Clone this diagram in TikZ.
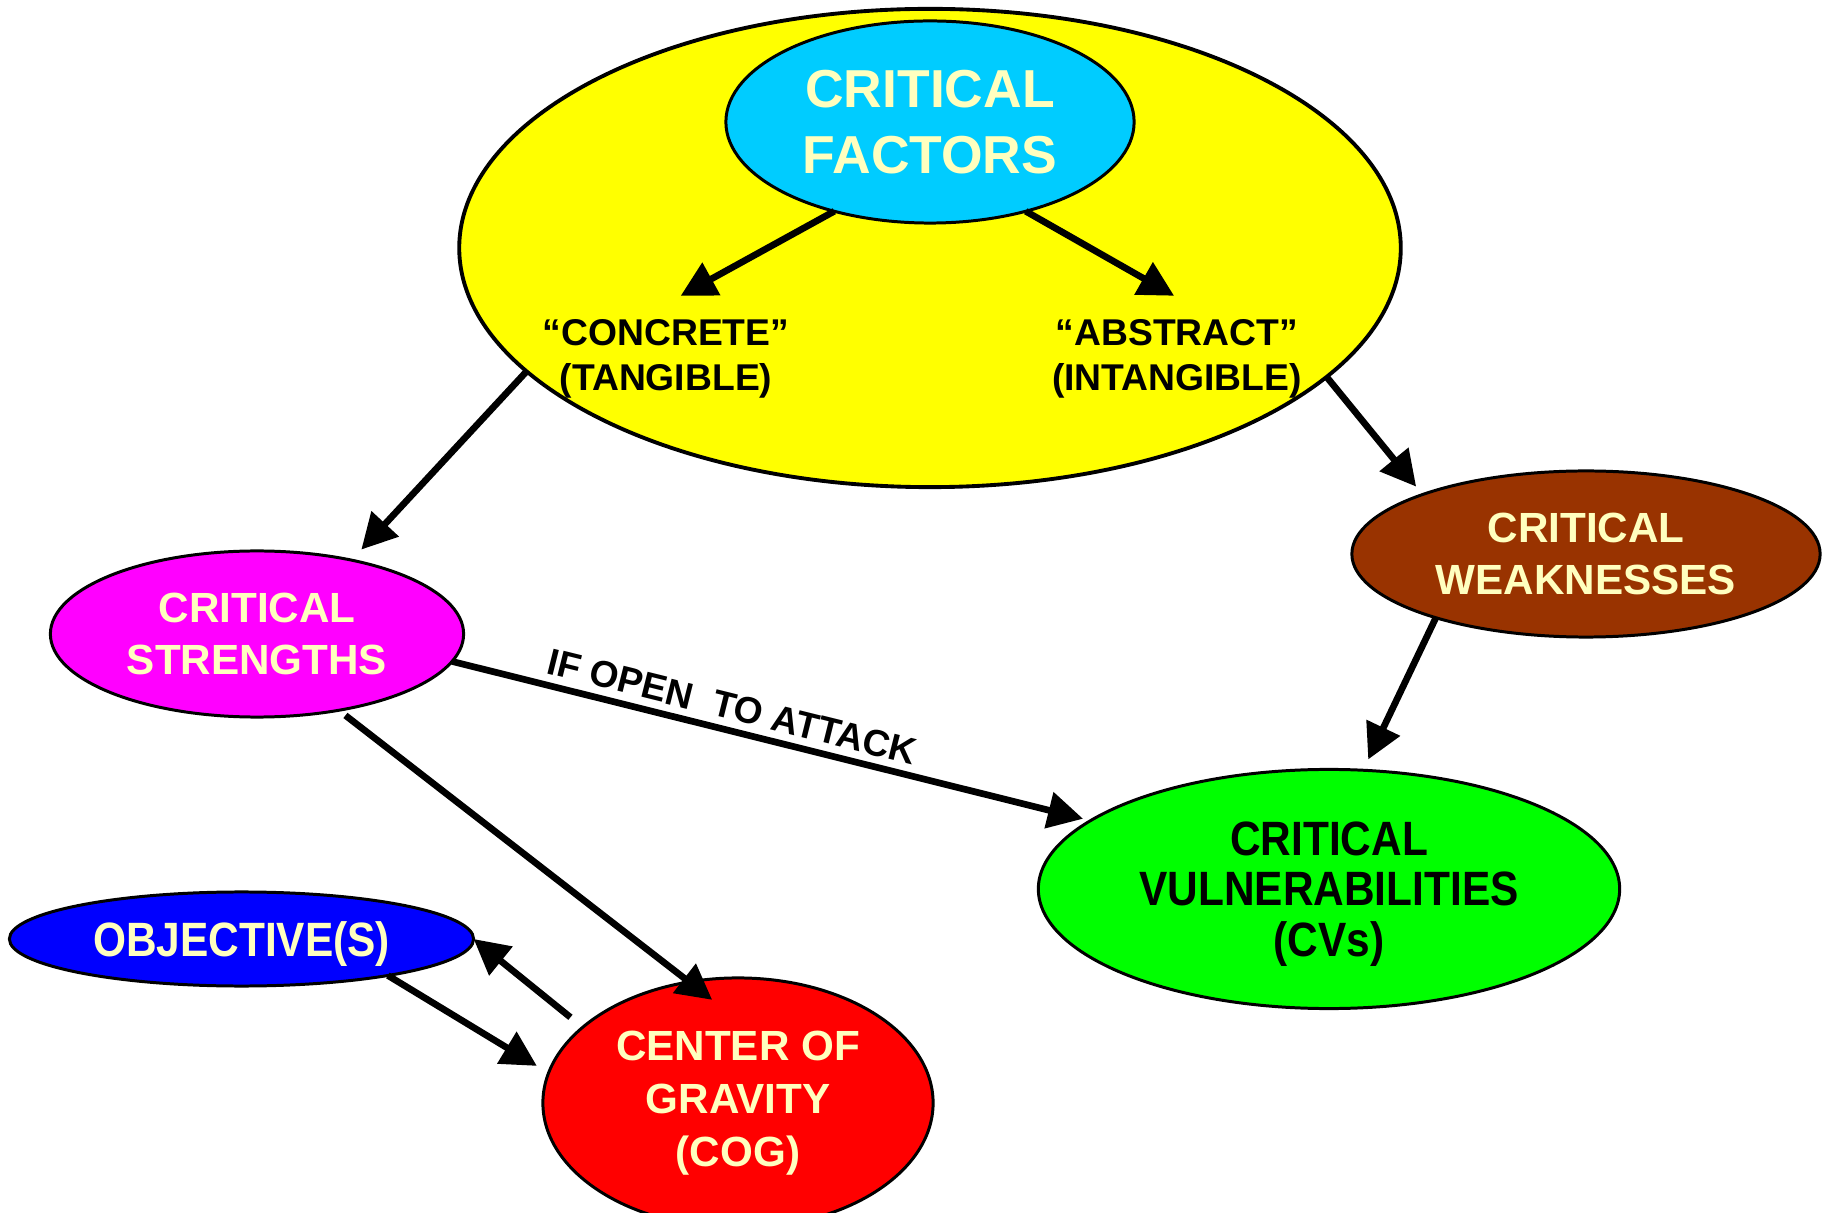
\documentclass[tikz,border=0pt]{standalone}
\usepackage{fontspec}
\setmainfont{Liberation Sans}
\newfontfamily\narrowsans[FakeStretch=0.88]{Liberation Sans}
\usetikzlibrary{arrows.meta,shapes.geometric}

\definecolor{cream}{HTML}{FFFFBF}
\definecolor{skyblue}{HTML}{00CCFF}
\definecolor{rust}{HTML}{993300}
\definecolor{lemon}{HTML}{FFFF00}
\definecolor{pink}{HTML}{FF00FF}
\definecolor{lime}{HTML}{00FF00}
\definecolor{royal}{HTML}{0000FF}
\definecolor{scarlet}{HTML}{FF0000}

\tikzset{
  bubble/.style={ellipse,draw,line width=0.85pt,inner sep=0pt,outer sep=0pt,align=center,
    text=cream,font=\bfseries\fontsize{12}{14.7}\selectfont},
  tag/.style={align=center,inner sep=0pt,outer sep=0pt,
    font=\bfseries\fontsize{10.6}{12.8}\selectfont}
}

\begin{document}
\begin{tikzpicture}[x=0.01cm,y=-0.01cm,->,>={Triangle[length=10pt,width=10.2pt]},line width=1.9pt]
  \useasboundingbox (0,0) rectangle (1827,1213);

  % the factors and what they split into
  \node[bubble,fill=lemon,line width=1.1pt,minimum width=9.41cm,minimum height=4.78cm] (outer) at (930,248) {};
  \node[bubble,fill=skyblue,minimum width=4.08cm,minimum height=2.02cm,
        font=\bfseries\fontsize{15.2}{18.8}\selectfont] (cf) at (930,122) {CRITICAL\\FACTORS};
  \node[tag] (conc) at (666,358.5) {“CONCRETE”\\(TANGIBLE)};
  \node[tag] (abst) at (1177,358.5) {“ABSTRACT”\\(INTANGIBLE)};

  \node[bubble,fill=pink,minimum width=4.13cm,minimum height=1.66cm] (cs) at (257,634) {CRITICAL\\STRENGTHS};
  \node[bubble,fill=rust,minimum width=4.68cm,minimum height=1.66cm] (cw) at (1586,554) {CRITICAL\\WEAKNESSES};
  \node[bubble,fill=lime,text=black,text depth=0pt,minimum width=5.81cm,minimum height=2.39cm,
        font=\narrowsans\bfseries\fontsize{13.7}{14.4}\selectfont] (cv) at (1329,889) {CRITICAL\\VULNERABILITIES\\(CVs)};
  \node[bubble,fill=royal,text depth=0pt,minimum width=4.64cm,minimum height=0.94cm,
        font=\narrowsans\bfseries\fontsize{13.7}{14.4}\selectfont] (obj) at (241.5,939) {OBJECTIVE(S)};
  \node[bubble,fill=scarlet,minimum width=3.90cm,minimum height=2.50cm,
        font=\bfseries\fontsize{12}{15}\selectfont] (cog) at (738,1103) {CENTER OF\\GRAVITY\\(COG)};

  \path
    (cf.223.1) edge[shorten >=13.7pt] (conc.125.3)
    (cf.317.8) edge[shorten >=13.4pt] (abst.46)
    (outer.197.6) edge[shorten >=4.1pt] (cs.38.3)
    (outer.342.4) edge[shorten >=2.9pt] (cw.160.4)
    (cw.203.9) edge[shorten >=3.4pt] (cv.74.4)
    (cs.352.75) edge[shorten >=2.2pt] node[tag,sloped,above=3pt,pos=0.43] {IF OPEN~~TO ATTACK} (cv.164.6)
    (cs.317.5) edge[shorten <=2.4pt,shorten >=-8.3pt] (cog.112)
    (cog.154.3) edge[shorten <=4.5pt] (obj.east)
    (obj.346.8) edge[shorten >=3.9pt] (cog.171.3);
\end{tikzpicture}
\end{document}
